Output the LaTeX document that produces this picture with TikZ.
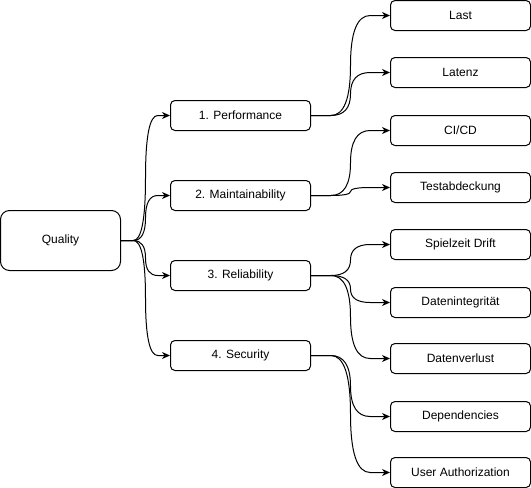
\documentclass[tikz,border=0pt]{standalone}
\usepackage{fontspec}
\setmainfont{Liberation Sans}
\usetikzlibrary{arrows.meta,calc}
\tikzset{
  box/.style={draw=black, line width=1pt, fill=white, rounded corners=4.5pt,
    minimum width=140pt, minimum height=30pt, inner sep=0pt, align=center,
    font=\fontsize{12}{14}\selectfont},
  rootbox/.style={box, rounded corners=9pt, minimum width=120pt, minimum height=60pt},
  edge/.style={draw=black, line width=1pt, -{Stealth[length=8pt,width=7pt,inset=2.5pt]}}
}
\newcommand{\cedge}[2]{%
  \draw[edge] let \p1=(#1.east), \p2=(#2.west), \n1={(\x1+\x2)/2}, \n2={(\y1+\y2)/2} in
  (\p1) -- ({(\x1+\n1)/2},\y1)
  .. controls ({\x1+5/6*(\n1-\x1)},\y1) and (\n1,{\n2+2/3*(\y1-\n2)}) .. (\n1,\n2)
  .. controls (\n1,{\n2+2/3*(\y2-\n2)}) and ({\x2-5/6*(\x2-\n1)},\y2) .. ({(\n1+\x2)/2},\y2)
  -- (\p2);}
\begin{document}
\begin{tikzpicture}[x=1pt,y=1pt]
\useasboundingbox (0,0) rectangle (531,-488);
\node[rootbox] (q) at (60.5,-240.5) {Quality};
\node[box] (p) at (240.5,-115.5) {1. Performance};
\node[box] (m) at (240.5,-195.5) {2. Maintainability};
\node[box] (r) at (240.5,-275.5) {3. Reliability};
\node[box] (s) at (240.5,-355.5) {4. Security};
\node[box] (l1) at (460.5,-15.5) {Last};
\node[box] (l2) at (460.5,-72.5) {Latenz};
\node[box] (l3) at (460.5,-130.5) {CI/CD};
\node[box] (l4) at (460.5,-187.5) {Testabdeckung};
\node[box] (l5) at (460.5,-244.5) {Spielzeit Drift};
\node[box] (l6) at (460.5,-302.5) {Datenintegrität};
\node[box] (l7) at (460.5,-358.5) {Datenverlust};
\node[box] (l8) at (460.5,-416.5) {Dependencies};
\node[box] (l9) at (460.5,-472.5) {User Authorization};
\cedge{q}{p}
\cedge{q}{m}
\cedge{q}{r}
\cedge{q}{s}
\cedge{p}{l1}
\cedge{p}{l2}
\cedge{m}{l3}
\cedge{m}{l4}
\cedge{r}{l5}
\cedge{r}{l6}
\cedge{r}{l7}
\cedge{s}{l8}
\cedge{s}{l9}
\end{tikzpicture}
\end{document}
